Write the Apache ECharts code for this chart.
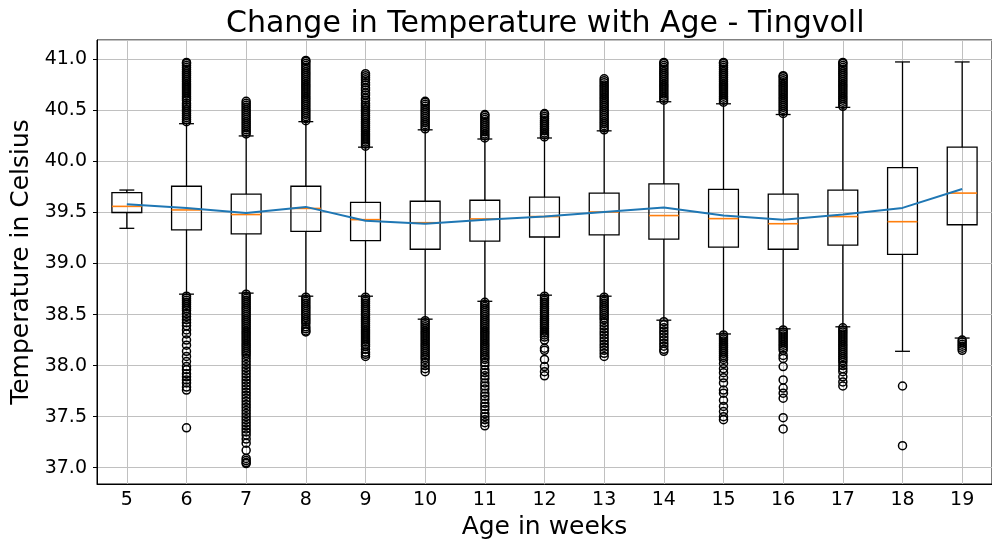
<!DOCTYPE html>
<html><head><meta charset="utf-8">
<script src="https://cdn.jsdelivr.net/npm/echarts@6/dist/echarts.min.js"></script>
<style>html,body{margin:0;padding:0;background:#fff}#c{width:992px;height:545px}</style>
</head><body><div id="c"></div>
<script>
const weeks = ['5','6','7','8','9','10','11','12','13','14','15','16','17','18','19'];
const whiskerLow  = [39.345, 38.70, 38.71, 38.68, 38.68, 38.455, 38.63, 38.69, 38.68, 38.445, 38.31, 38.36, 38.38, 38.14, 38.27];
const q1          = [39.50, 39.33, 39.29, 39.315, 39.225, 39.14, 39.22, 39.26, 39.28, 39.24, 39.16, 39.14, 39.18, 39.09, 39.38];
const medians     = [39.56, 39.525, 39.48, 39.54, 39.43, 39.40, 39.437, 39.46, 39.505, 39.47, 39.44, 39.39, 39.46, 39.41, 39.69];
const q3          = [39.695, 39.757, 39.68, 39.757, 39.60, 39.61, 39.62, 39.65, 39.69, 39.78, 39.727, 39.68, 39.72, 39.94, 40.14];
const whiskerHigh = [39.72, 40.37, 40.25, 40.39, 40.14, 40.31, 40.22, 40.23, 40.30, 40.585, 40.565, 40.46, 40.53, 40.975, 40.975];
const means       = [39.58, 39.545, 39.495, 39.555, 39.42, 39.39, 39.43, 39.46, 39.505, 39.55, 39.47, 39.43, 39.48, 39.545, 39.73];
const yTickLabels = ['37.0','37.5','38.0','38.5','39.0','39.5','40.0','40.5','41.0'];

const out5 = [];
const out6 = [40.39,40.41,40.43,40.45,40.47,40.49,40.51,40.53,40.55,40.57,40.6,40.62,40.64,40.66,40.68,40.7,40.72,40.74,40.76,40.78,40.8,40.82,40.84,40.86,40.88,40.9,40.92,40.94,40.96,40.97,
  38.68,38.66,38.64,38.62,38.6,38.58,38.56,38.54,38.51,38.48,38.45,38.42,38.39,38.35,38.31,38.25,38.2,38.14,38.09,38.04,37.99,37.96,37.92,37.89,37.86,37.83,37.79,37.76,37.39];
const out7 = [40.27,40.29,40.31,40.33,40.35,40.37,40.39,40.41,40.43,40.45,40.47,40.49,40.51,40.53,40.55,40.57,40.59,
  38.7,38.68,38.66,38.64,38.62,38.6,38.58,38.56,38.54,38.52,38.5,38.48,38.46,38.44,38.42,38.4,38.38,38.36,38.34,38.32,38.3,38.28,38.26,38.24,38.22,38.2,38.18,38.16,38.14,38.12,38.1,
  38.07,38.04,38.01,37.98,37.95,37.92,37.89,37.86,37.83,37.8,37.77,37.74,37.71,37.68,37.65,37.62,37.59,37.56,37.53,37.5,37.47,37.44,37.41,37.38,37.35,37.32,37.28,37.24,37.17,37.09,37.07,37.05,37.04];
const out8 = [40.4,40.42,40.44,40.46,40.48,40.5,40.52,40.54,40.56,40.58,40.6,40.62,40.64,40.66,40.68,40.7,40.72,40.74,40.76,40.78,40.8,40.82,40.84,40.86,40.88,40.9,40.92,40.94,40.96,40.98,40.99,
  38.67,38.65,38.63,38.61,38.59,38.57,38.55,38.53,38.51,38.49,38.47,38.45,38.43,38.41,38.38,38.36,38.34,38.33];
const out9 = [40.15,40.17,40.19,40.21,40.23,40.25,40.27,40.29,40.31,40.33,40.35,40.37,40.39,40.41,40.43,40.45,40.47,40.49,40.51,40.53,40.55,40.57,40.6,40.62,40.65,40.67,40.7,40.72,40.75,40.77,40.8,40.82,40.84,40.86,
  38.67,38.65,38.63,38.61,38.59,38.57,38.55,38.53,38.51,38.49,38.47,38.45,38.43,38.41,38.39,38.37,38.35,38.33,38.31,38.29,38.27,38.25,38.23,38.21,38.19,38.16,38.13,38.11,38.09];
const out10 = [40.32,40.34,40.36,40.38,40.4,40.42,40.44,40.46,40.48,40.5,40.52,40.54,40.56,40.58,40.59,
  38.44,38.42,38.4,38.38,38.36,38.34,38.32,38.3,38.28,38.26,38.24,38.22,38.2,38.18,38.16,38.14,38.12,38.1,38.08,38.06,38.03,38.0,37.97,37.94];
const out11 = [40.23,40.25,40.27,40.29,40.31,40.33,40.35,40.37,40.39,40.41,40.43,40.45,40.46,
  38.62,38.6,38.58,38.56,38.54,38.52,38.5,38.48,38.46,38.44,38.42,38.4,38.38,38.36,38.34,38.32,38.3,38.28,38.26,38.24,38.22,38.2,38.18,38.16,38.14,38.12,38.1,38.08,38.06,
  38.03,38.0,37.96,37.93,37.9,37.87,37.83,37.8,37.77,37.73,37.7,37.67,37.63,37.6,37.57,37.53,37.5,37.47,37.44,37.41];
const out12 = [40.24,40.26,40.28,40.3,40.32,40.34,40.36,40.38,40.4,40.42,40.44,40.46,40.47,
  38.68,38.66,38.64,38.62,38.6,38.58,38.56,38.54,38.52,38.5,38.48,38.46,38.44,38.42,38.4,38.38,38.36,38.34,38.32,38.3,38.28,
  38.25,38.17,38.15,38.06,37.99,37.94,37.9];
const out13 = [40.31,40.33,40.35,40.37,40.39,40.41,40.43,40.45,40.47,40.49,40.51,40.53,40.55,40.57,40.59,40.61,40.63,40.65,40.67,40.69,40.71,40.73,40.75,40.77,40.79,40.81,
  38.67,38.65,38.63,38.61,38.59,38.57,38.55,38.53,38.51,38.49,38.47,38.45,38.42,38.39,38.36,38.33,38.3,38.27,38.24,38.21,38.18,38.15,38.12,38.09];
const out14 = [40.6,40.62,40.64,40.66,40.68,40.7,40.72,40.74,40.76,40.78,40.8,40.82,40.84,40.86,40.88,40.9,40.92,40.94,40.96,40.97,
  38.43,38.4,38.37,38.34,38.31,38.28,38.25,38.22,38.19,38.16,38.14];
const out15 = [40.58,40.6,40.62,40.64,40.66,40.68,40.7,40.72,40.74,40.76,40.78,40.8,40.82,40.84,40.86,40.88,40.9,40.92,40.94,40.96,40.97,
  38.3,38.28,38.26,38.24,38.22,38.2,38.18,38.16,38.14,38.12,38.1,38.08,38.06,
  38.02,37.97,37.93,37.88,37.83,37.76,37.73,37.66,37.6,37.55,37.5,37.47];
const out16 = [40.47,40.49,40.51,40.53,40.55,40.57,40.59,40.61,40.63,40.65,40.67,40.69,40.71,40.73,40.75,40.77,40.79,40.81,40.83,40.84,
  38.35,38.33,38.31,38.29,38.27,38.25,38.23,38.21,38.19,38.17,38.15,38.1,38.07,37.99,37.86,37.78,37.73,37.68,37.49,37.38];
const out17 = [40.54,40.56,40.58,40.6,40.62,40.64,40.66,40.68,40.7,40.72,40.74,40.76,40.78,40.8,40.82,40.84,40.86,40.88,40.9,40.92,40.94,40.96,40.97,
  38.37,38.35,38.33,38.31,38.29,38.27,38.25,38.23,38.21,38.19,38.17,38.15,38.13,38.11,38.09,38.07,38.05,38.03,38.0,
  37.97,37.94,37.89,37.84,37.8];
const out18 = [37.8,37.215];
const out19 = [38.25,38.23,38.21,38.19,38.17,38.15];
const outlierGroups = [out5,out6,out7,out8,out9,out10,out11,out12,out13,out14,out15,out16,out17,out18,out19];

const FONT = 'DejaVu Sans';
const boxData = weeks.map((w, i) => [i, whiskerLow[i], q1[i], medians[i], q3[i], whiskerHigh[i]]);
const outlierData = [];
outlierGroups.forEach((g, i) => g.forEach(v => outlierData.push([i, v])));

function renderBox(params, api) {
  const i = api.value(0);
  const band = api.size([1, 0])[0];
  const hw = band * 0.25, cw = band * 0.125;
  const x = api.coord([i, api.value(1)])[0];
  const yLow = api.coord([i, api.value(1)])[1];
  const yQ1 = api.coord([i, api.value(2)])[1];
  const yMed = api.coord([i, api.value(3)])[1];
  const yQ3 = api.coord([i, api.value(4)])[1];
  const yHigh = api.coord([i, api.value(5)])[1];
  const ls = {stroke: '#000', lineWidth: 1.3};
  return {type: 'group', children: [
    {type: 'line', shape: {x1: x, y1: yQ1, x2: x, y2: yLow}, style: ls},
    {type: 'line', shape: {x1: x, y1: yQ3, x2: x, y2: yHigh}, style: ls},
    {type: 'line', shape: {x1: x - cw, y1: yLow, x2: x + cw, y2: yLow}, style: ls},
    {type: 'line', shape: {x1: x - cw, y1: yHigh, x2: x + cw, y2: yHigh}, style: ls},
    {type: 'rect', shape: {x: x - hw, y: yQ3, width: 2 * hw, height: yQ1 - yQ3}, style: {stroke: '#000', lineWidth: 1.3, fill: 'rgba(0,0,0,0)'}},
    {type: 'line', shape: {x1: x - hw, y1: yMed, x2: x + hw, y2: yMed}, style: {stroke: '#ff7f0e', lineWidth: 1.6}, z2: 5}
  ]};
}

const chart = echarts.init(document.getElementById('c'), null, {renderer: 'canvas'});
chart.setOption({
  animation: false,
  backgroundColor: '#fff',
  title: {
    text: 'Change in Temperature with Age - Tingvoll',
    left: 221, top: 4,
    textStyle: {fontFamily: FONT, fontSize: 30, fontWeight: 'normal', color: '#000'}
  },
  grid: {left: 97, right: -8, top: 40, bottom: 61, show: true, borderColor: '#000', borderWidth: 1, backgroundColor: 'rgba(0,0,0,0)'},
  xAxis: {
    type: 'category', data: weeks, boundaryGap: true,
    name: 'Age in weeks', nameLocation: 'middle', nameGap: 30,
    nameTextStyle: {fontFamily: FONT, fontSize: 25, color: '#000'},
    axisLine: {lineStyle: {color: '#000', width: 1}},
    axisTick: {alignWithLabel: true, length: 4, lineStyle: {color: '#000'}},
    axisLabel: {fontFamily: FONT, fontSize: 19, color: '#000', margin: 7},
    splitLine: {show: false}
  },
  yAxis: {
    type: 'value', min: 36.84, max: 41.19, splitNumber: 9,
    name: 'Temperature in Celsius', nameLocation: 'middle', nameGap: 58,
    nameTextStyle: {fontFamily: FONT, fontSize: 25, color: '#000'},
    axisLine: {show: true, lineStyle: {color: '#000', width: 1}},
    axisTick: {show: true, length: 4, lineStyle: {color: '#000'}},
    axisLabel: {fontFamily: FONT, fontSize: 19, color: '#000', margin: 10, showMinLabel: false, showMaxLabel: false,
      formatter: v => { const s = v.toFixed(1); return yTickLabels.indexOf(s) >= 0 ? s : ''; }},
    splitLine: {show: true, lineStyle: {color: '#c0c0c0', width: 1}}
  },
  series: [
    {
      type: 'line', data: [], silent: true, z: 0,
      markLine: {
        z: 0, silent: true, symbol: ['none', 'none'], label: {show: false},
        lineStyle: {color: '#c0c0c0', width: 1, type: 'solid'},
        emphasis: {disabled: true},
        data: weeks.map(w => ({xAxis: w}))
      }
    },
    {
      type: 'custom', renderItem: renderBox, data: boxData, z: 6,
      encode: {x: 0, y: [1, 2, 3, 4, 5]}
    },
    {
      type: 'scatter', data: outlierData, symbol: 'circle', symbolSize: 8, z: 7,
      itemStyle: {color: 'rgba(0,0,0,0)', borderColor: '#000', borderWidth: 1.5, opacity: 1}
    },
    {
      type: 'line', data: means, symbol: 'none', z: 8,
      lineStyle: {color: '#1f77b4', width: 2}
    }
  ]
});
</script>
</body></html>
